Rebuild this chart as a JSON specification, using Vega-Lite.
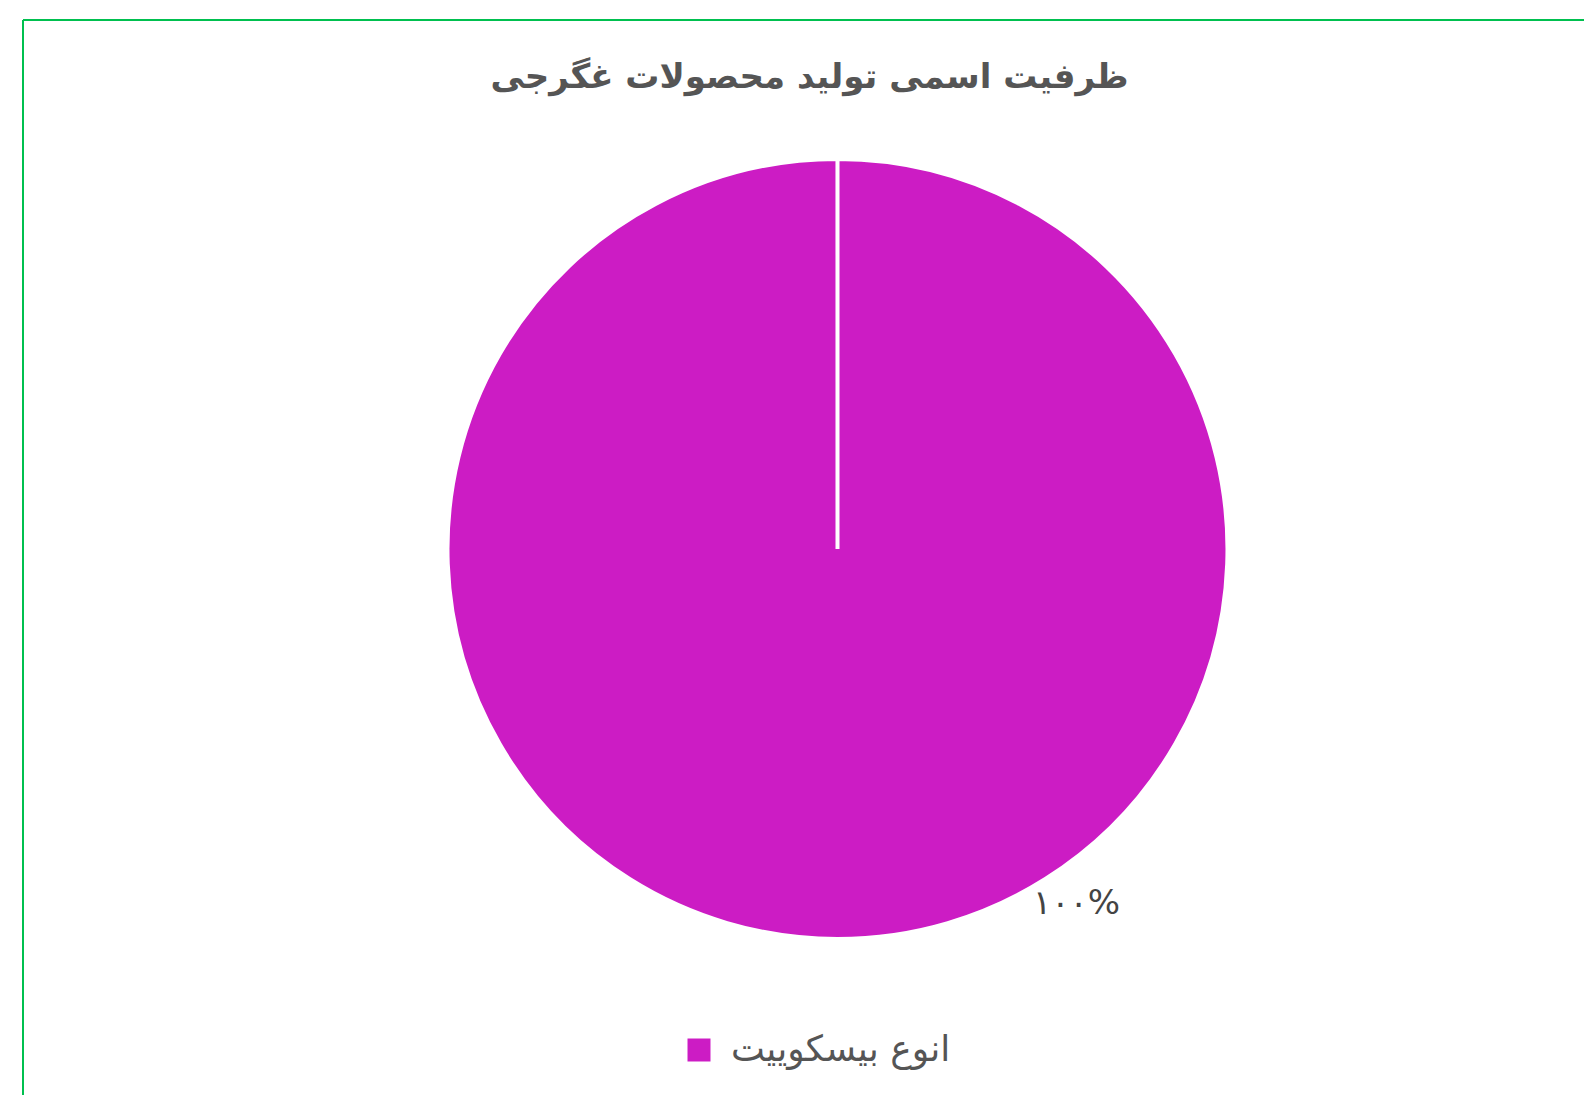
{
  "$schema": "https://vega.github.io/schema/vega-lite/v6.json",
  "width": 1561,
  "height": 1075,
  "autosize": {"type": "none"},
  "padding": {"left": 23, "top": 20, "right": 0, "bottom": 0},
  "background": "white",
  "view": {"stroke": "#00C04F", "strokeWidth": 2, "strokeDash": [1561, 2636, 1075, 0]},
  "title": {
    "text": "ظرفیت اسمی تولید محصولات غگرجی",
    "font": "DejaVu Sans",
    "fontSize": 34,
    "fontWeight": "bold",
    "color": "#555555",
    "anchor": "middle",
    "frame": "group",
    "baseline": "middle",
    "offset": -92,
    "dx": 6
  },
  "data": {
    "values": [
      {"category": "انوع بیسکوییت", "value": 100, "label": "۱۰۰%"}
    ]
  },
  "layer": [
    {
      "mark": {"type": "arc", "outerRadius": 390, "stroke": "white", "strokeWidth": 4, "xOffset": 34, "yOffset": -8.5},
      "encoding": {
        "theta": {"field": "value", "type": "quantitative", "scale": {"range": [0, 6.2831]}},
        "color": {
          "field": "category",
          "type": "nominal",
          "scale": {"range": ["#CC1CC4"]},
          "legend": {
            "orient": "none",
            "legendX": 658,
            "legendY": 1012,
            "title": null,
            "symbolType": "square",
            "symbolSize": 529,
            "symbolStrokeWidth": 0,
            "symbolOpacity": 1,
            "labelFont": "DejaVu Sans",
            "labelFontSize": 36,
            "labelColor": "#555555",
            "labelLimit": 0,
            "labelOffset": 14
          }
        }
      }
    },
    {
      "mark": {"type": "text", "theta": 2.549, "radius": 428, "xOffset": 34, "yOffset": -8.5, "font": "DejaVu Sans", "fontSize": 34, "color": "#444444", "align": "center", "baseline": "middle"},
      "encoding": {"text": {"field": "label", "type": "nominal"}}
    }
  ]
}
